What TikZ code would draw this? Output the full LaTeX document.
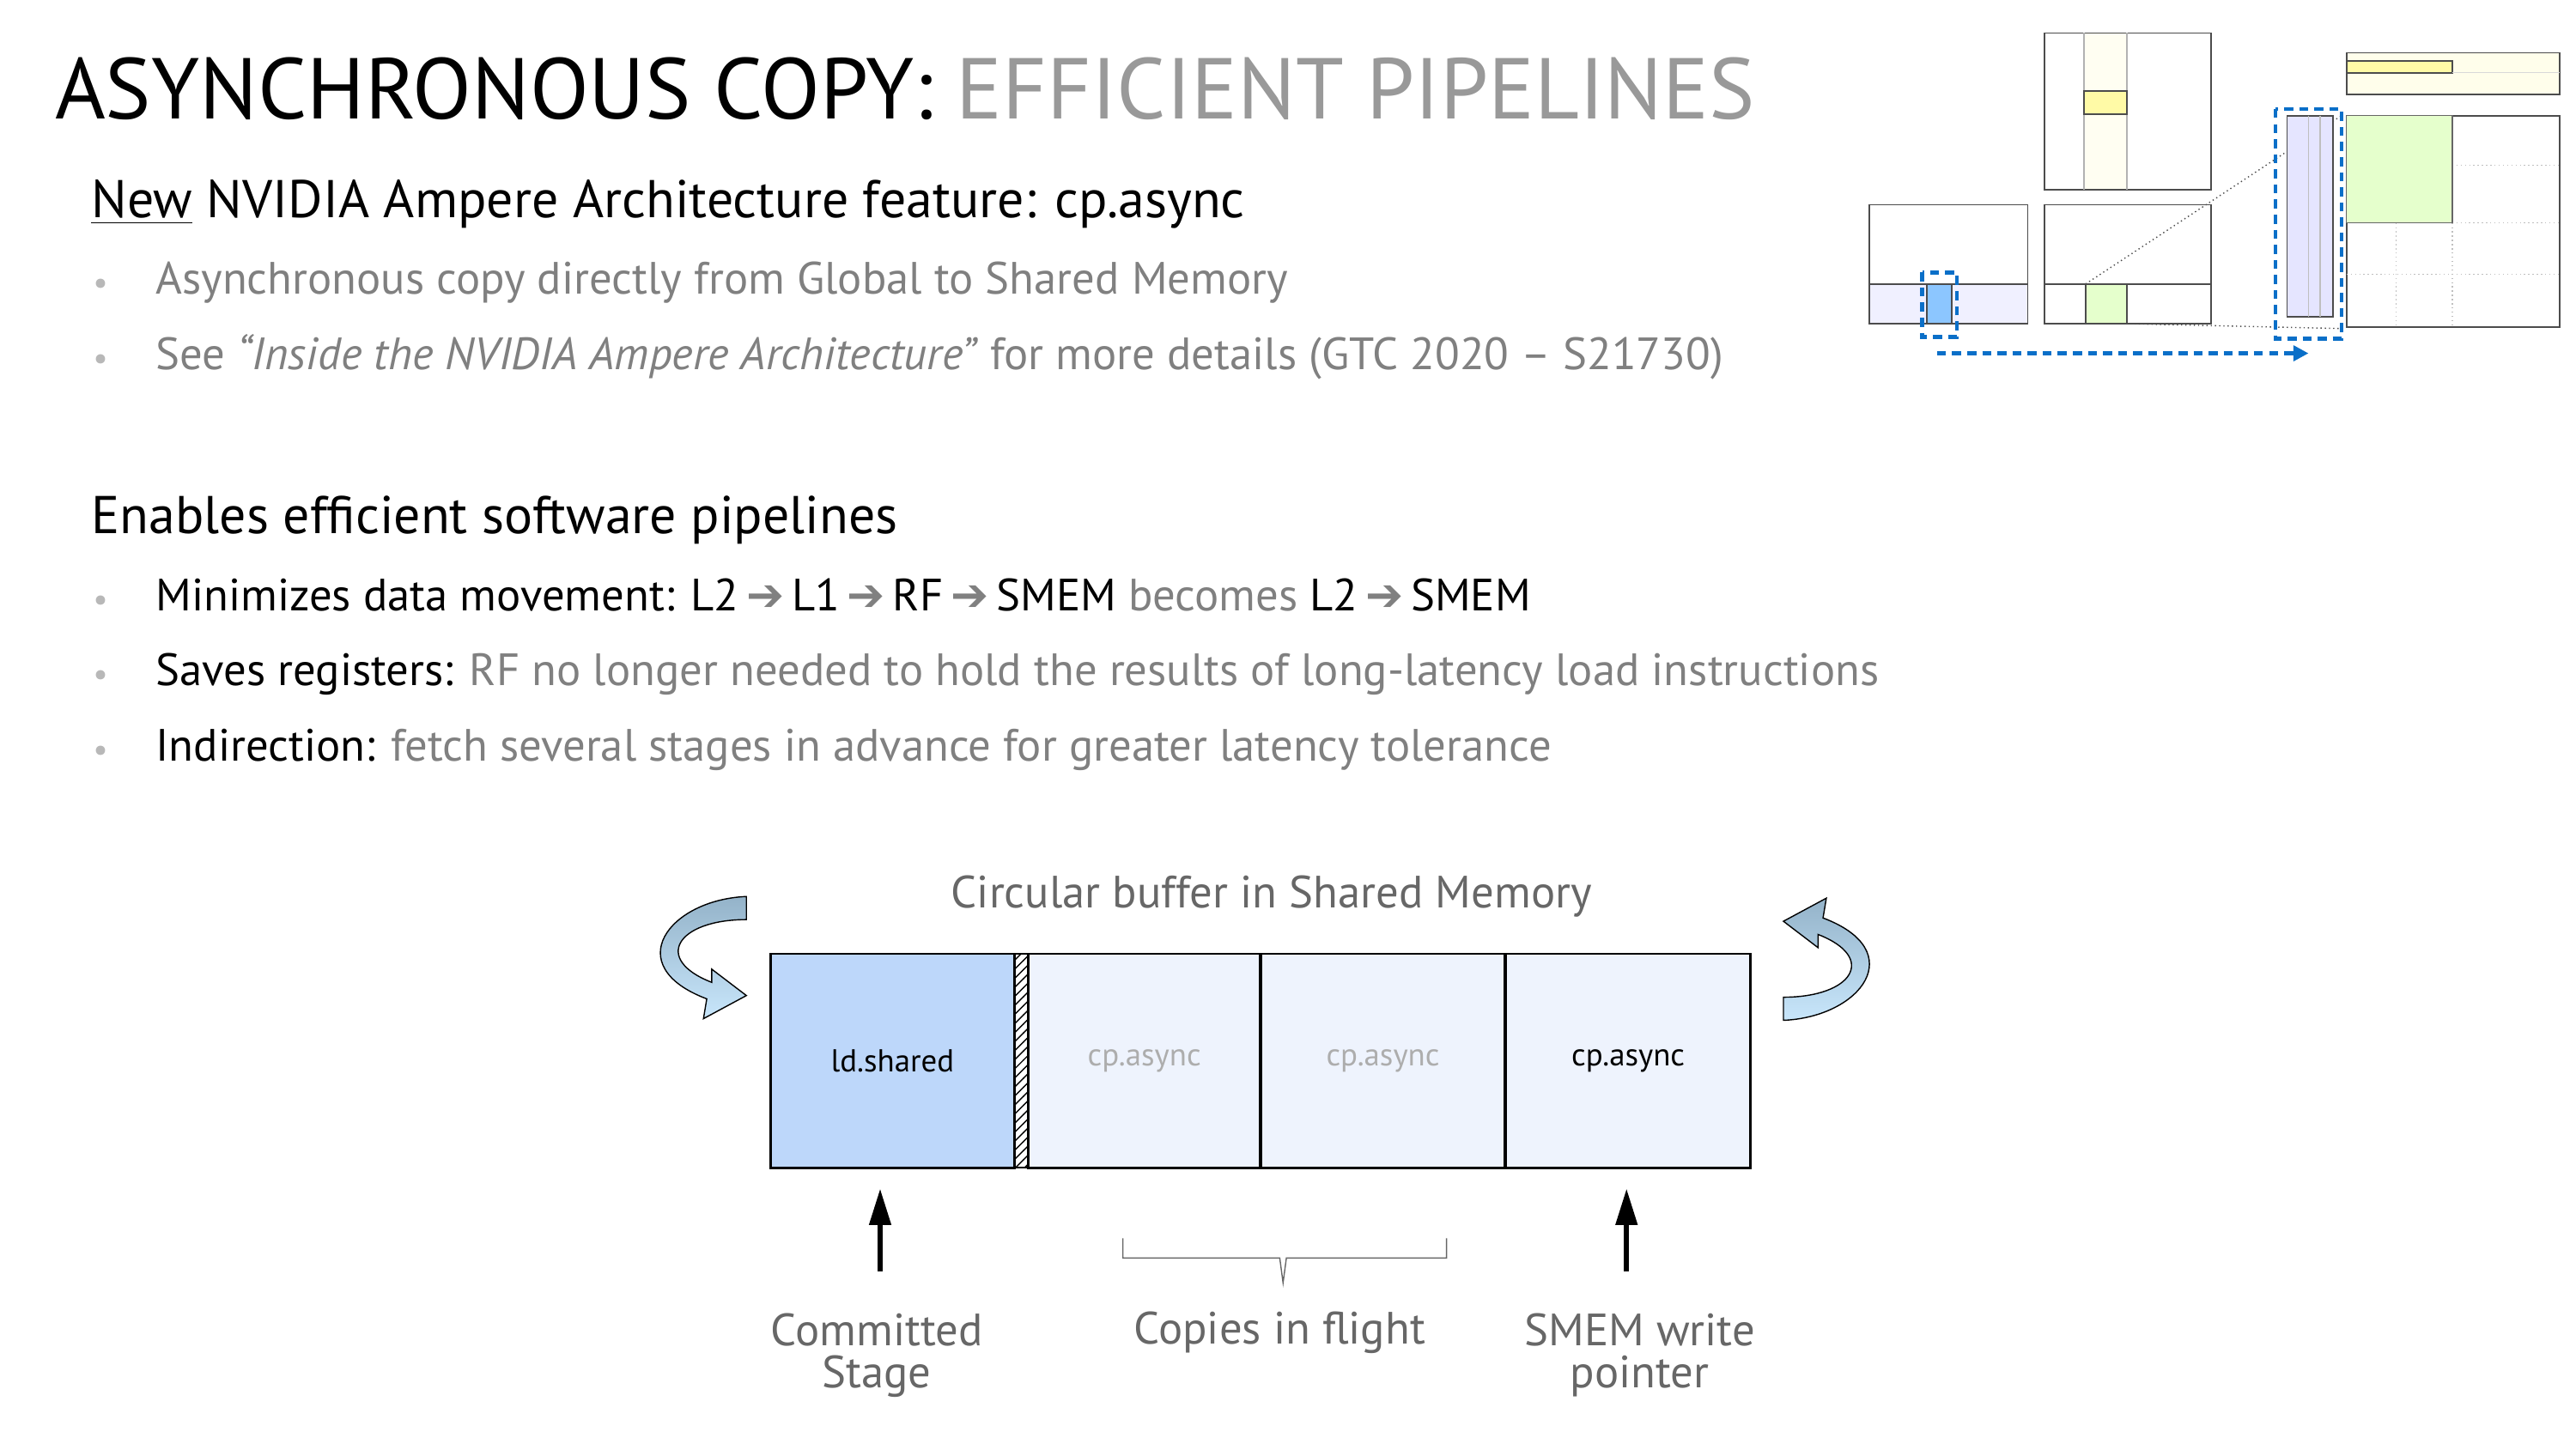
\documentclass[tikz,border=0pt]{standalone}
\usepackage{fontspec}
\setmainfont{PT Sans}
\newfontfamily\symfont{DejaVu Sans}
\usetikzlibrary{positioning,patterns,arrows.meta}
\definecolor{lightgray}{HTML}{999999}
\definecolor{textgray}{HTML}{808080}
\definecolor{cellblue}{HTML}{BDD7FA}
\definecolor{cellpale}{HTML}{EEF3FD}
\definecolor{linkblue}{HTML}{0A6FC8}
\definecolor{curlytop}{HTML}{94B3C9}
\definecolor{curlybot}{HTML}{C8E6FB}
\tikzset{heading/.style={anchor=base west,font=\fontsize{28.6}{32}\selectfont,inner sep=0}}
\tikzset{subheading/.style={anchor=base west,font=\fontsize{17.6}{20}\selectfont,inner sep=0}}
\tikzset{item/.style={anchor=base west,font=\fontsize{15}{17}\selectfont,inner sep=0,text=textgray}}
\tikzset{dot/.style={anchor=base west,font=\fontsize{11}{13}\selectfont,inner sep=0,text=lightgray!70}}
\tikzset{cell/.style={draw,thick,minimum height=130*0.5451pt,anchor=north west,inner sep=0,fill=cellpale,font=\fontsize{10.5}{12}\selectfont}}
\tikzset{caption/.style={font=\fontsize{15}{17}\selectfont,text=textgray!80!black,align=center,inner sep=0}}
\tikzset{pointer/.style={-{Triangle[length=12pt,width=7pt]},line width=1.6pt}}
\tikzset{tile/.style={draw=black!70,line width=0.5pt}}
\tikzset{marquee/.style={draw=linkblue,line width=1.3pt,dash pattern=on 3pt off 2pt}}
\newcommand{\arr}{\textcolor{textgray}{\symfont\,➔\,}}
\newcommand{\curlyarrow}{%
  \path[draw=black,line width=0.4pt,top color=curlytop,bottom color=curlybot]
    (57,0) .. controls (10,2) and (-20,42) .. (33,62) -- (31,74) -- (57,60) -- (36,44)
    -- (36,52) .. controls (0,38) and (15,14) .. (57,14) -- cycle;}
\begin{document}
\begin{tikzpicture}[x=0.01923cm,y=-0.01923cm]
\useasboundingbox (0,0) rectangle (1560,878);
% header
\node[heading] (title) at (33,72) {ASYNCHRONOUS COPY: \textcolor{lightgray}{EFFICIENT PIPELINES}};
\node[subheading] (feature) at (55,132) {\underline{New} NVIDIA Ampere Architecture feature: cp.async};
\node[dot] at (56,178) {•};
\node[item] (copy) at (94,178) {Asynchronous copy directly from Global to Shared Memory};
\node[dot] at (56,224) {•};
\node[item] (inside) at (94,224) {See \textit{“Inside the NVIDIA Ampere Architecture”} for more details (GTC 2020 – S21730)};
\node[subheading] (enables) at (55,323) {Enables efficient software pipelines};
\node[dot] at (56,370) {•};
\node[item,text=black] (moves) at (94,370) {Minimizes data movement: L2\arr L1\arr RF\arr SMEM \textcolor{textgray}{becomes} L2\arr SMEM};
\node[dot] at (56,415) {•};
\node[item] (regs) at (94,415) {\textcolor{black}{Saves registers:} RF no longer needed to hold the results of long-latency load instructions};
\node[dot] at (56,461) {•};
\node[item] (indir) at (94,461) {\textcolor{black}{Indirection:} fetch several stages in advance for greater latency tolerance};

% tile sketch
\fill[blue!6] (1132,172) rectangle (1228,196);
\draw[tile] (1132,124) rectangle (1228,196);
\draw[tile] (1132,172) -- (1228,172);
\draw[tile,fill=blue!50!cyan!45] (1167,172) rectangle (1182,196);
\draw[marquee] (1164,165) rectangle (1185,204);
\fill[yellow!5] (1262,20) rectangle (1288,115);
\draw[tile] (1238,20) rectangle (1339,115);
\draw[black!30] (1262,20) -- (1262,115) (1288,20) -- (1288,115);
\draw[tile,fill=yellow!35] (1262,55) rectangle (1288,69);
\draw[tile] (1238,124) rectangle (1339,196);
\draw[tile] (1238,172) -- (1339,172);
\draw[tile,fill=green!50!yellow!20] (1263,172) rectangle (1288,196);
\draw[black!70,densely dotted] (1263,172) -- (1418,70);
\draw[black!70,densely dotted] (1285,196) -- (1418,199);
\draw[tile,fill=blue!10] (1385,70) rectangle (1413,192);
\draw[black!25] (1398,70) -- (1398,192) (1405,70) -- (1405,192);
\draw[marquee] (1378,66) rectangle (1418,205);
\draw[marquee,-{Triangle[length=5pt,width=5pt]}] (1173,214) -- (1398,214);
\draw[tile,fill=yellow!8] (1421,32) rectangle (1550,57);
\draw[tile,fill=yellow!35] (1421,37) rectangle (1485,44);
\draw[black!15] (1485,44) -- (1550,44);
\draw[tile] (1421,70) rectangle (1550,198);
\draw[black!25,densely dotted] (1421,135) -- (1550,135) (1421,166) -- (1550,166)
  (1485,100) -- (1550,100) (1451,135) -- (1451,198) (1485,135) -- (1485,198);
\fill[green!50!yellow!20,draw=black!60,line width=0.4pt] (1421,70) rectangle (1485,135);

% circular buffer
\node[caption] (buftitle) at (770,543) {Circular buffer in Shared Memory};
\node[cell,fill=cellblue,minimum width=148*0.5451pt] (committed) at (466,577) {ld.shared};
\node[cell,minimum width=8*0.5451pt,pattern=north east lines,line width=0.6pt] (barrier) at (614,577) {};
\node[cell,minimum width=141*0.5451pt,text=lightgray!80] (flightA) at (622,577) {cp.async};
\node[cell,minimum width=148*0.5451pt,text=lightgray!80] (flightB) at (763,577) {cp.async};
\node[cell,minimum width=149*0.5451pt] (write) at (911,577) {cp.async};
\begin{scope}[shift={(395,543)}]\curlyarrow\end{scope}
\begin{scope}[shift={(1137,618)},rotate=180]\curlyarrow\end{scope}

% pointers and labels
\coordinate (committedtail) at (533,770);
\coordinate (writetail) at (985,770);
\draw[pointer] (committedtail) -- (533,720);
\draw[pointer] (writetail) -- (985,720);
\draw[black!60] (680,750) -- (680,762) -- (775,762) -- (777,777) -- (779,762) -- (876,762) -- (876,750);
\node[caption] (committedlabel) at (531,821) {Committed\\[-3pt]Stage};
\node[caption] (flightlabel) at (775,807) {Copies in flight};
\node[caption] (writelabel) at (993,821) {SMEM write\\[-3pt]pointer};
\end{tikzpicture}
\end{document}
